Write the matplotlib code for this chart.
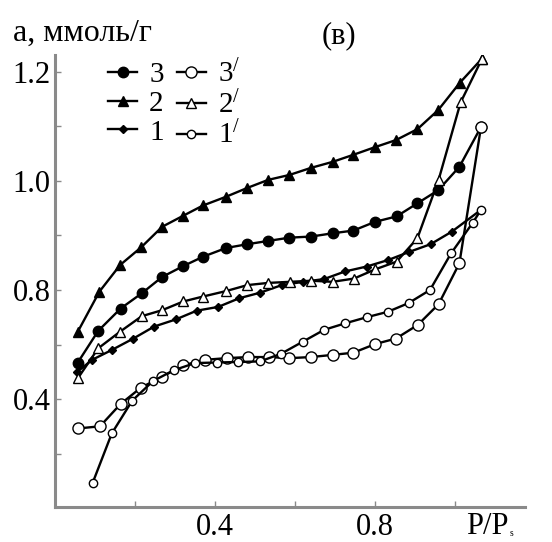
import matplotlib
matplotlib.use("Agg")
import matplotlib.pyplot as plt

plt.rcParams['font.family'] = ['Liberation Serif', 'DejaVu Serif']
plt.rcParams['mathtext.fontset'] = 'custom'
plt.rcParams['mathtext.rm'] = 'Liberation Serif'
plt.rcParams['mathtext.it'] = 'Liberation Serif:italic'

# ---- data (relative pressure P/Ps, adsorption a, mmol/g) ----
x2 = [0.057, 0.111, 0.163, 0.215, 0.268, 0.32, 0.37, 0.4275, 0.48, 0.533,
      0.586, 0.64, 0.694, 0.746, 0.80, 0.8525, 0.906, 0.958, 1.012, 1.067]
y2 = [0.7235, 0.797, 0.846, 0.878, 0.916, 0.936, 0.955, 0.971, 0.987, 1.002,
      1.011, 1.024, 1.035, 1.048, 1.062, 1.075, 1.095, 1.130, 1.180, 1.224]

x3 = [0.057, 0.108, 0.164, 0.217, 0.268, 0.321, 0.37, 0.4275, 0.481, 0.533,
      0.586, 0.64, 0.694, 0.746, 0.80, 0.854, 0.906, 0.958, 1.011, 1.065]
y3 = [0.667, 0.725, 0.766, 0.794, 0.824, 0.844, 0.861, 0.877, 0.884, 0.890,
      0.896, 0.898, 0.904, 0.909, 0.925, 0.935, 0.959, 0.983, 1.026, 1.099]

x1 = [0.056, 0.093, 0.142, 0.196, 0.248, 0.302, 0.354, 0.408, 0.461, 0.5125,
      0.567, 0.621, 0.6725, 0.725, 0.779, 0.833, 0.886, 0.939, 0.992, 1.065]
y1 = [0.650, 0.672, 0.690, 0.711, 0.733, 0.746, 0.762, 0.769, 0.785, 0.795,
      0.809, 0.815, 0.820, 0.834, 0.843, 0.855, 0.870, 0.884, 0.907, 0.947]

x2d = [0.057, 0.108, 0.1625, 0.217, 0.268, 0.321, 0.37, 0.4275, 0.481, 0.533,
       0.5875, 0.641, 0.694, 0.7475, 0.801, 0.854, 0.906, 0.959, 1.014, 1.0675]
y2d = [0.638, 0.693, 0.7235, 0.752, 0.763, 0.779, 0.788, 0.798, 0.809, 0.813,
       0.815, 0.817, 0.815, 0.821, 0.838, 0.852, 0.895, 1.002, 1.144, 1.224]

x3d = [0.057, 0.1125, 0.164, 0.215, 0.268, 0.321, 0.375, 0.429, 0.482, 0.535,
       0.586, 0.64, 0.694, 0.746, 0.801, 0.8525, 0.907, 0.959, 1.011, 1.065]
y3d = [0.546, 0.550, 0.591, 0.621, 0.641, 0.662, 0.672, 0.675, 0.677, 0.677,
       0.675, 0.677, 0.681, 0.685, 0.701, 0.711, 0.736, 0.774, 0.849, 1.099]

x1d = [0.094, 0.142, 0.193, 0.245, 0.2975, 0.35, 0.405, 0.4575, 0.5125, 0.565,
       0.619, 0.673, 0.726, 0.779, 0.832, 0.884, 0.9375, 0.99, 1.044, 1.065]
y1d = [0.446, 0.537, 0.597, 0.633, 0.653, 0.666, 0.667, 0.668, 0.669, 0.683,
       0.705, 0.727, 0.739, 0.750, 0.760, 0.776, 0.800, 0.867, 0.923, 0.947]

xtick_pos = [0.2, 0.4, 0.6, 0.8, 1.0]
xtick_lab = ['', '0.4', '', '0.8', '']
ytick_pos = [0.5, 0.6, 0.7, 0.8, 0.9, 1.0, 1.1, 1.2]
ytick_lab = ['', '0.4', '', '0.8', '', '1.0', '', '1.2']

W, H = 552, 542
fig = plt.figure(figsize=(W / 100, H / 100), dpi=100)
L, R, T, B = 55, 525, 55, 507
ax = fig.add_axes([L / W, 1 - B / H, (R - L) / W, (B - T) / H])
ax.set_xlim(0, 1.175)
ax.set_ylim(0.402, 1.231)

lw = 1.7
k = 'black'
h3, = ax.plot(x3, y3, '-o', color=k, lw=lw, ms=7.5, mfc=k, mec=k, label='3')
h2, = ax.plot(x2, y2, '-^', color=k, lw=lw, ms=7.5, mfc=k, mec=k, label='2')
h1, = ax.plot(x1, y1, '-D', color=k, lw=lw, ms=4.5, mfc=k, mec=k, label='1')
h3d, = ax.plot(x3d, y3d, '-o', color=k, lw=lw, ms=8, mfc='white', mec=k,
               mew=1.0, label='3$^{/}$')
h2d, = ax.plot(x2d, y2d, '-^', color=k, lw=lw, ms=7.5, mfc='white', mec=k,
               mew=1.0, label='2$^{/}$')
h1d, = ax.plot(x1d, y1d, '-o', color=k, lw=lw, ms=6, mfc='white', mec=k,
               mew=1.0, label='1$^{/}$')

for s in ['top', 'right']:
    ax.spines[s].set_visible(False)
for s in ['left', 'bottom']:
    ax.spines[s].set_color('#8a8a8a')
    ax.spines[s].set_linewidth(2.2)

ax.set_xticks(xtick_pos)
ax.set_xticklabels(xtick_lab)
ax.set_yticks(ytick_pos)
ax.set_yticklabels(ytick_lab)
ax.tick_params(direction='in', length=4, width=1, color='#8a8a8a',
               labelsize=22, pad=4)
ax.tick_params(axis='y', pad=3)

leg = ax.legend(handles=[h3, h2, h1, h3d, h2d, h1d], ncol=2,
                loc='upper left', bbox_to_anchor=(0.07, 1.035),
                frameon=False, fontsize=21, handlelength=1.0,
                handletextpad=0.4, columnspacing=0.45, labelspacing=0.08,
                borderpad=0.2)

fig.text(13 / W, 1 - 33 / H, 'a, ммоль/г', fontsize=23, ha='left',
         va='center')
fig.text(339 / W, 1 - 36 / H, '(в)', fontsize=22, ha='center', va='center')
fig.text(466 / W, 1 - 534 / H, 'P/P', fontsize=22, ha='left',
         va='baseline')
fig.text(510 / W, 1 - 536 / H, 's', fontsize=7, ha='left', va='baseline')

fig.savefig('out.png', dpi=100)
